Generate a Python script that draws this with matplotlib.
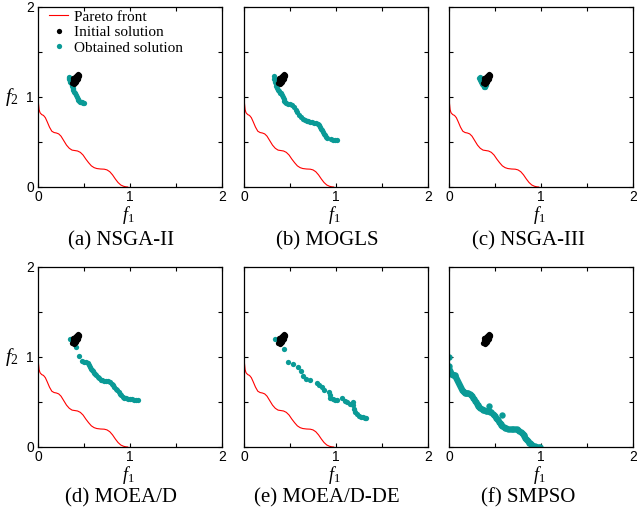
import matplotlib
matplotlib.use('Agg')
import matplotlib.pyplot as plt

plt.rcParams['mathtext.fontset'] = 'custom'
plt.rcParams['mathtext.rm'] = 'Liberation Serif'
plt.rcParams['mathtext.it'] = 'Liberation Serif:italic'

# Pareto front
pareto_f1 = [0.0, 0.005, 0.012, 0.022, 0.04, 0.06, 0.08, 0.1, 0.125, 0.15,
             0.175, 0.2, 0.225, 0.25, 0.28, 0.31, 0.34, 0.37, 0.4, 0.43,
             0.46, 0.49, 0.52, 0.55, 0.58, 0.61, 0.64, 0.68, 0.72, 0.75,
             0.78, 0.81, 0.84, 0.87, 0.9, 0.93, 0.955, 0.975]
pareto_f2 = [1.0, 0.93, 0.86, 0.825, 0.805, 0.795, 0.77, 0.725, 0.665, 0.62,
             0.605, 0.6, 0.59, 0.565, 0.515, 0.465, 0.43, 0.41, 0.405, 0.4,
             0.385, 0.355, 0.31, 0.27, 0.235, 0.215, 0.205, 0.2, 0.198, 0.19,
             0.17, 0.135, 0.09, 0.05, 0.022, 0.008, 0.002, 0.0]

# initial solution (same in every panel)
init_f1 = [0.37, 0.38, 0.39, 0.40, 0.41, 0.42, 0.43, 0.44, 0.45, 0.38, 0.39, 0.40, 0.41,
           0.42, 0.43, 0.44, 0.39, 0.40, 0.41, 0.42, 0.43, 0.44, 0.45, 0.38, 0.40]
init_f2 = [1.16, 1.17, 1.18, 1.19, 1.20, 1.22, 1.23, 1.24, 1.25, 1.19, 1.21, 1.22, 1.23,
           1.24, 1.25, 1.26, 1.15, 1.16, 1.17, 1.19, 1.20, 1.21, 1.23, 1.21, 1.20]

# obtained solutions
nsga2_f1 = [0.335, 0.34, 0.345, 0.35, 0.36, 0.365, 0.37, 0.375, 0.38, 0.385, 0.39, 0.40,
            0.41, 0.42, 0.43, 0.44, 0.45, 0.46, 0.47, 0.48, 0.49, 0.50, 0.34, 0.35]
nsga2_f2 = [1.22, 1.20, 1.18, 1.17, 1.16, 1.14, 1.12, 1.10, 1.09, 1.08, 1.06, 1.04,
            1.02, 1.00, 0.98, 0.97, 0.96, 0.95, 0.945, 0.94, 0.935, 0.93, 1.21, 1.21]

mogls_f1 = [0.33, 0.33, 0.34, 0.345, 0.35, 0.36, 0.37, 0.38, 0.39, 0.40, 0.41, 0.42,
            0.43, 0.44, 0.45, 0.46, 0.48, 0.50, 0.52, 0.54, 0.56, 0.58, 0.60, 0.62,
            0.64, 0.66, 0.68, 0.70, 0.72, 0.74, 0.76, 0.78, 0.80, 0.82, 0.83, 0.84,
            0.85, 0.86, 0.87, 0.88, 0.89, 0.90, 0.95, 0.97, 0.99, 1.01]
mogls_f2 = [1.23, 1.20, 1.17, 1.14, 1.12, 1.10, 1.08, 1.07, 1.05, 1.04, 1.02, 1.00,
            0.98, 0.96, 0.945, 0.93, 0.925, 0.92, 0.91, 0.89, 0.86, 0.83, 0.80, 0.78,
            0.76, 0.745, 0.735, 0.73, 0.725, 0.72, 0.715, 0.71, 0.70, 0.69, 0.67, 0.65,
            0.63, 0.61, 0.59, 0.575, 0.56, 0.55, 0.53, 0.525, 0.52, 0.52]

nsga3_f1 = [0.33, 0.34, 0.35, 0.36, 0.37, 0.38, 0.39, 0.34, 0.36, 0.38, 0.39, 0.40,
            0.37, 0.35, 0.38]
nsga3_f2 = [1.21, 1.19, 1.17, 1.15, 1.13, 1.12, 1.11, 1.22, 1.20, 1.17, 1.14, 1.13,
            1.18, 1.20, 1.11]

moead_f1 = [0.345, 0.41, 0.45, 0.48, 0.50, 0.52, 0.54, 0.555, 0.57, 0.58, 0.59, 0.60,
            0.61, 0.62, 0.635, 0.65, 0.665, 0.68, 0.70, 0.72, 0.74, 0.76, 0.78, 0.80,
            0.815, 0.83, 0.845, 0.86, 0.875, 0.89, 0.905, 0.92, 0.94, 0.96, 0.98, 1.00,
            1.02, 1.04, 1.06, 1.085]
moead_f2 = [1.195, 1.115, 1.01, 0.955, 0.945, 0.94, 0.93, 0.915, 0.89, 0.87, 0.855, 0.84,
            0.825, 0.81, 0.795, 0.78, 0.765, 0.75, 0.74, 0.735, 0.735, 0.73, 0.72, 0.705,
            0.69, 0.67, 0.65, 0.63, 0.61, 0.59, 0.575, 0.56, 0.55, 0.54, 0.535, 0.535,
            0.53, 0.525, 0.525, 0.52]

moeadde_f1 = [0.34, 0.43, 0.475, 0.53, 0.59, 0.615, 0.64, 0.675, 0.72, 0.795, 0.82,
              0.85, 0.87, 0.925, 0.93, 0.94, 0.965, 0.99, 1.01, 1.07, 1.095, 1.12,
              1.155, 1.18, 1.19, 1.195, 1.21, 1.23, 1.25, 1.27, 1.29, 1.31, 1.33]
moeadde_f2 = [1.2, 1.09, 0.95, 0.922, 0.893, 0.84, 0.793, 0.752, 0.74, 0.715, 0.69,
              0.662, 0.635, 0.607, 0.58, 0.55, 0.535, 0.527, 0.523, 0.544, 0.515, 0.497,
              0.48, 0.495, 0.462, 0.425, 0.388, 0.365, 0.35, 0.338, 0.33, 0.326, 0.326]

smpso_f1 = [0.0, 0.0, 0.003, 0.006, 0.01, 0.015, 0.022, 0.03, 0.04, 0.05, 0.06, 0.07,
            0.08, 0.09, 0.1, 0.11, 0.12, 0.13, 0.14, 0.15, 0.16, 0.175, 0.19, 0.2,
            0.21, 0.225, 0.24, 0.25, 0.26, 0.27, 0.28, 0.29, 0.3, 0.31, 0.32, 0.33,
            0.34, 0.355, 0.37, 0.385, 0.4, 0.415, 0.43, 0.445, 0.46, 0.475, 0.49, 0.5,
            0.51, 0.52, 0.53, 0.54, 0.55, 0.56, 0.57, 0.58, 0.595, 0.61, 0.625, 0.64,
            0.66, 0.68, 0.7, 0.72, 0.735, 0.75, 0.765, 0.78, 0.79, 0.8, 0.81, 0.82,
            0.83, 0.84, 0.85, 0.86, 0.87, 0.88, 0.89, 0.9, 0.915, 0.93, 0.945, 0.96,
            0.975, 0.99, 0.43, 0.577]
smpso_f2 = [1.0, 0.9, 0.87, 0.85, 0.835, 0.825, 0.815, 0.81, 0.805, 0.8, 0.795, 0.785,
            0.77, 0.75, 0.725, 0.7, 0.675, 0.655, 0.635, 0.62, 0.61, 0.605, 0.6, 0.6,
            0.595, 0.59, 0.578, 0.565, 0.55, 0.532, 0.515, 0.498, 0.481, 0.465, 0.452, 0.44,
            0.43, 0.42, 0.41, 0.407, 0.405, 0.403, 0.4, 0.393, 0.385, 0.372, 0.355, 0.341,
            0.326, 0.31, 0.296, 0.283, 0.27, 0.258, 0.246, 0.235, 0.224, 0.215, 0.209, 0.205,
            0.202, 0.2, 0.199, 0.198, 0.195, 0.19, 0.181, 0.17, 0.16, 0.148, 0.135, 0.12,
            0.105, 0.09, 0.076, 0.063, 0.05, 0.039, 0.029, 0.02, 0.011, 0.006, 0.003, 0.001,
            0.0, 0.0, 0.455, 0.36]

captions = ['(a) NSGA-II', '(b) MOGLS', '(c) NSGA-III',
            '(d) MOEA/D', '(e) MOEA/D-DE', '(f) SMPSO']
obtained = [(nsga2_f1, nsga2_f2), (mogls_f1, mogls_f2), (nsga3_f1, nsga3_f2),
            (moead_f1, moead_f2), (moeadde_f1, moeadde_f2), (smpso_f1, smpso_f2)]

teal = '#0a9a96'
W, H = 637.0, 525.0
col_left = [38, 244, 449]
row_top = [7, 267]
cap_x = [121, 327, 528]
cap_y = [241, 498]

fig = plt.figure(figsize=(6.37, 5.25), dpi=100)

for k in range(6):
    r, c = k // 3, k % 3
    ax = fig.add_axes([col_left[c] / W, 1 - (row_top[r] + 180) / H, 184 / W, 180 / H])
    l1, = ax.plot(pareto_f1, pareto_f2, color='red', lw=0.8, zorder=1)
    ox, oy = obtained[k]
    ms = 4.6 if k == 5 else 3.8
    l3, = ax.plot(ox, oy, 'o', color=teal, ms=ms, mec='none', zorder=2)
    l2, = ax.plot(init_f1, init_f2, 'o', color='black', ms=3.8, mec='none', zorder=3)
    ax.set_xlim(0, 2)
    ax.set_ylim(0, 2)
    ax.set_xticks([0, 0.5, 1, 1.5, 2])
    ax.set_yticks([0, 0.5, 1, 1.5, 2])
    ax.set_xticklabels(['0', '', '1', '', '2'], fontfamily='Liberation Sans', fontsize=10)
    if c == 0:
        ax.set_yticklabels(['0', '', '1', '', '2'], fontfamily='Liberation Sans', fontsize=10)
        ax.text(-0.14, 0.5, '$f_2$', transform=ax.transAxes, ha='center', va='center',
                fontsize=14)
    else:
        ax.set_yticklabels([])
    ax.tick_params(direction='in', length=3, width=0.8, top=True, right=True, pad=3)
    ax.tick_params(axis='x', pad=2)
    ax.text(0.49, -0.158, '$f_1$', transform=ax.transAxes, ha='center', va='center',
            fontsize=13)
    for s in ax.spines.values():
        s.set_linewidth(0.9)
    fig.text(cap_x[c] / W, 1 - cap_y[r] / H, captions[k], ha='center', va='center',
             fontfamily='Liberation Serif', fontsize=15)
    if k == 0:
        ax.legend([l1, l2, l3], ['Pareto front', 'Initial solution', 'Obtained solution'],
                  loc='upper left', bbox_to_anchor=(0.045, 1.0), frameon=False,
                  borderaxespad=0.2, borderpad=0, handlelength=1.2, handletextpad=0.4,
                  labelspacing=0.12, prop={'family': 'Liberation Serif', 'size': 11})

plt.savefig('out.png', dpi=100)
